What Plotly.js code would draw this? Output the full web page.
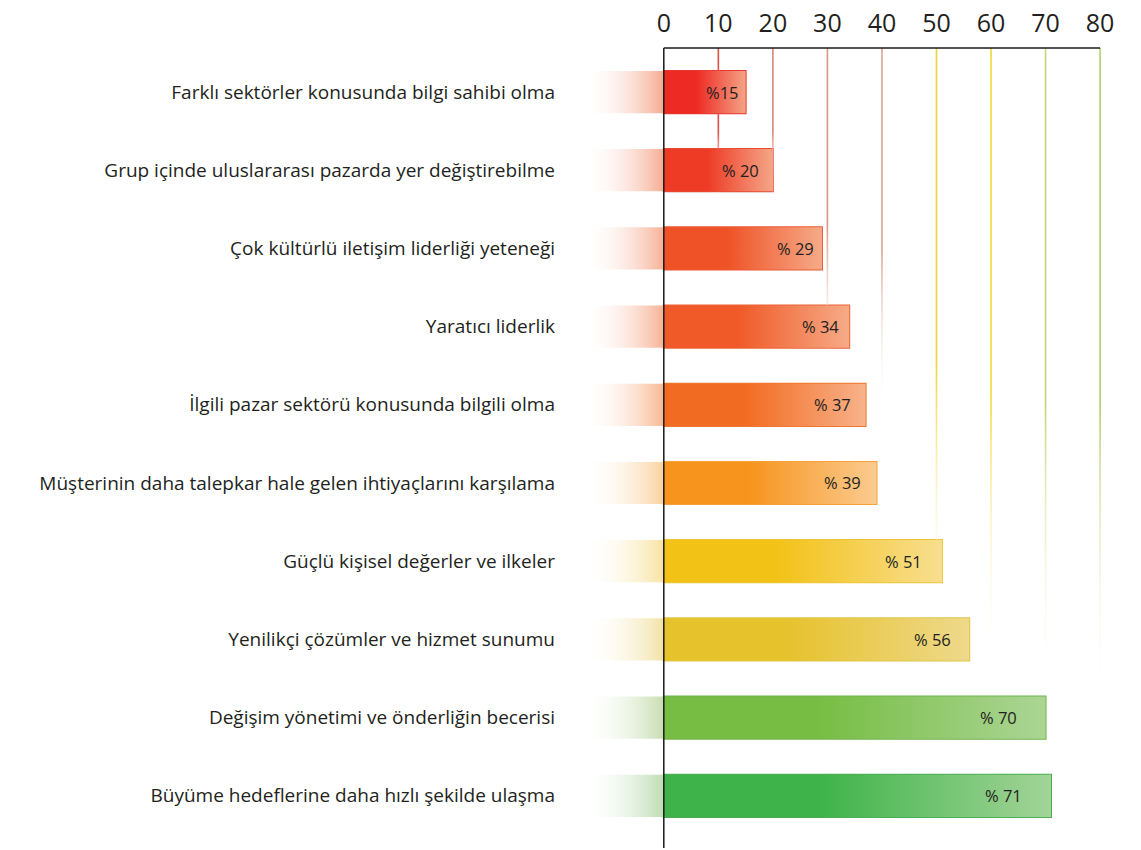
<!DOCTYPE html>
<html><head><meta charset="utf-8">
<script src="https://cdn.plot.ly/plotly-3.0.1.min.js"></script>
<style>html,body{margin:0;padding:0;background:#fff;} #chart{width:1141px;height:850px;}</style>
</head><body><div id="chart"></div>
<script>
// ---- data ----
const categories = [
  'Farklı sektörler konusunda bilgi sahibi olma',
  'Grup içinde uluslararası pazarda yer değiştirebilme',
  'Çok kültürlü iletişim liderliği yeteneği',
  'Yaratıcı liderlik',
  'İlgili pazar sektörü konusunda bilgili olma',
  'Müşterinin daha talepkar hale gelen ihtiyaçlarını karşılama',
  'Güçlü kişisel değerler ve ilkeler',
  'Yenilikçi çözümler ve hizmet sunumu',
  'Değişim yönetimi ve önderliğin becerisi',
  'Büyüme hedeflerine daha hızlı şekilde ulaşma'
];
const values = [15, 20, 29, 34, 37, 39, 51, 56, 70, 71];
const valueLabels = ['%15', '% 20', '% 29', '% 34', '% 37', '% 39', '% 51', '% 56', '% 70', '% 71'];
const tickValues = [0, 10, 20, 30, 40, 50, 60, 70, 80];

// ---- styles ----
const barStrong = ['#EE2A24','#EE3B25','#EF5226','#F05A28','#F26B22','#F7941D','#F2C216','#E6C22C','#77BD43','#3EB349'];
const barPale   = ['#F4A385','#F4A688','#F6AA88','#F6AB87','#F8B28A','#FBCB8F','#F8DE8F','#EED98B','#ABD595','#A3D498'];
const barBorder = ['#E8392E','#E84A34','#EA5A35','#EC6336','#F0772F','#F5A23A','#EEC53A','#E2C545','#6DB54B','#4CAF52'];
const fadeColor = ['#F5AA90','#F5AD93','#F6B196','#F6B295','#F7B992','#FAD29E','#F8E3A2','#F2E2A6','#C8DDB0','#BCDDB2'];
const textPad   = [5, 12, 6, 8, 13, 13, 18, 16, 27, 27];
const gridColors = ['#E0524A','#D88A78','#D59C86','#D8A890','#F2D43A','#F4D83C','#C6D77A','#B9D06C'];
const gridEnd    = [1.39, 1.39, 3.55, 4.1, 6.75, 7.44, 7.77, 7.85];
const BAR_W = 0.54, FADE_FROM = -14.8, Y_TOP = -0.563, Y_BOT = 9.668, GRID_W = 0.3;
const FONT = '"Open Sans", "Noto Sans", sans-serif';
const INK = '#231F20';

const idx = categories.map((_, i) => i);
const traces = [];

// gridlines (fading)
tickValues.slice(1).forEach((t, k) => {
  const x0 = t - GRID_W / 2, x1 = t + GRID_W / 2;
  traces.push({
    type: 'scatter', mode: 'lines', line: {width: 0}, hoverinfo: 'skip', showlegend: false,
    x: [x0, x1, x1, x0, x0], y: [Y_TOP, Y_TOP, gridEnd[k], gridEnd[k], Y_TOP],
    fill: 'toself',
    fillgradient: {type: 'vertical', start: Y_TOP, stop: gridEnd[k],
      colorscale: [[0, gridColors[k]], [0.55, gridColors[k]], [1, 'rgba(255,255,255,0)']]}
  });
});

// left fades and bar gradients
idx.forEach(i => {
  const y0 = i - BAR_W / 2, y1 = i + BAR_W / 2;
  traces.push({
    type: 'scatter', mode: 'lines', line: {width: 0}, hoverinfo: 'skip', showlegend: false,
    x: [FADE_FROM, 0, 0, FADE_FROM, FADE_FROM], y: [y0, y0, y1, y1, y0],
    fill: 'toself',
    fillgradient: {type: 'horizontal', colorscale: [[0, 'rgba(255,255,255,0)'], [1, fadeColor[i]]]}
  });
  const v = values[i];
  traces.push({
    type: 'scatter', mode: 'lines', line: {width: 0}, hoverinfo: 'skip', showlegend: false,
    x: [0, v, v, 0, 0], y: [y0, y0, y1, y1, y0],
    fill: 'toself',
    fillgradient: {type: 'horizontal', colorscale: [[0, barStrong[i]], [0.4, barStrong[i]], [1, barPale[i]]]}
  });
});

// bar outline trace
traces.push({
  type: 'bar', orientation: 'h', x: values, y: idx, width: BAR_W,
  marker: {color: 'rgba(0,0,0,0)', line: {color: barBorder, width: 2}},
  hoverinfo: 'skip', showlegend: false
});

const annotations = idx.map(i => ({
  x: values[i], y: i, xref: 'x', yref: 'y', text: valueLabels[i], showarrow: false,
  xanchor: 'right', yanchor: 'middle', xshift: -textPad[i],
  font: {family: FONT, size: 16.5, color: INK}
}));

const layout = {
  width: 1141, height: 850,
  margin: {l: 582, r: 30, t: 48, b: 2},
  paper_bgcolor: '#ffffff', plot_bgcolor: 'rgba(0,0,0,0)',
  showlegend: false,
  xaxis: {
    side: 'top', range: [-15, 82], tickvals: tickValues, ticktext: tickValues.map(String),
    showgrid: false, zeroline: false, showline: false, ticks: '',
    ticklabelstandoff: 10,
    tickfont: {family: FONT, size: 25, color: INK}, fixedrange: true
  },
  yaxis: {
    range: [Y_BOT, Y_TOP], tickvals: idx, ticktext: categories,
    showgrid: false, zeroline: false, showline: false, ticks: '',
    ticklabelstandoff: 26,
    tickfont: {family: FONT, size: 19, color: INK}, fixedrange: true
  },
  shapes: [
    {type: 'line', xref: 'x', yref: 'paper', x0: 0, x1: 0, y0: 0, y1: 1,
     line: {color: '#1a1a1a', width: 1.5}, layer: 'above'},
    {type: 'line', xref: 'x', yref: 'paper', x0: tickValues[0], x1: tickValues[tickValues.length - 1], y0: 1, y1: 1,
     line: {color: '#1a1a1a', width: 1.5}, layer: 'above'}
  ],
  annotations: annotations
};

Plotly.newPlot('chart', traces, layout, {displayModeBar: false, staticPlot: true});
</script>
</body></html>
